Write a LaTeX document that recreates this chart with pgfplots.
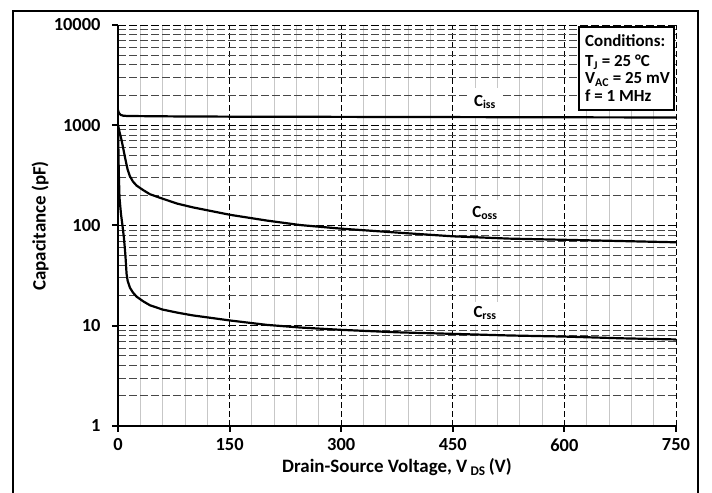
\documentclass[border=0pt]{standalone}
\usepackage{pgfplots}
\pgfplotsset{compat=1.18}
\usepackage{fontspec}
\setmainfont{Carlito}

\begin{document}
\begin{tikzpicture}[x=1bp,y=1bp]
\useasboundingbox (0,0) rectangle (712,493);
\fill[white] (0,0) rectangle (712,493);

\begin{axis}[
    at={(118bp,67bp)}, anchor=south west,
    scale only axis, width=558bp, height=401bp,
    xmin=0, xmax=750, ymin=1, ymax=10000,
    ymode=log,
    axis lines*=left,
    axis line style={line width=2.2bp},
    every tick/.style={black, line width=2bp},
    tick align=outside,
    major tick length=6bp, minor tick length=0bp,
    xtick={0,150,300,450,600,750},
    xticklabels={0,150,300,450,600,750},
    minor x tick num=4,
    ytick={1,10,100,1000,10000},
    yticklabels={1,10,100,1000,10000},
    ticklabel style={font=\fontsize{18.5}{20}\selectfont\bfseries},
    yticklabel style={xshift=-8bp},
    xticklabel style={yshift=-3bp},
    grid=both,
    major x grid style={black, line width=0.7bp, dash pattern=on 6bp off 3bp},
    major y grid style={black, line width=0.9bp, dash pattern=on 8bp off 3bp},
    minor x grid style={black!22, line width=0.9bp},
    minor y grid style={black!72, line width=0.9bp, dash pattern=on 8bp off 3bp},
    clip=true,
]
% C_iss
\addplot[black, line width=2.2bp] coordinates {
 (0,1420) (1,1340) (2,1300) (4,1265) (7,1245) (12,1238) (20,1235)
 (75,1225) (150,1218) (300,1212) (450,1206) (600,1200) (750,1195)};
% C_oss
\addplot[black, line width=2.2bp] coordinates {
 (0,1000) (2,860) (5,700) (8,540) (11,420) (13,360) (16,310) (20,275)
 (25,250) (34,225) (43,205) (60,185) (80,165) (100,152) (150,128)
 (200,112) (245,101) (300,93) (375,85) (450,78) (525,74) (600,72)
 (675,70) (750,68)};
% C_rss
\addplot[black, line width=2.2bp] coordinates {
 (0,1000) (0.5,600) (1,350) (2,190) (4,130) (6,100) (8,75) (10,50)
 (11.5,33) (13,28) (16,24) (20,21.5) (25,19.5) (34,17.5) (43,16)
 (60,14.5) (80,13.5) (100,12.7) (150,11.3) (200,10.2) (245,9.6)
 (300,9.1) (375,8.6) (450,8.3) (525,8.0) (600,7.8) (675,7.5) (750,7.3)};
\end{axis}

% curve labels
\node[fill=white, inner sep=0pt, minimum width=36bp, minimum height=28bp,
      font=\fontsize{17}{19}\selectfont\bfseries] at (485,391) {C\textsubscript{iss}};
\node[fill=white, inner sep=0pt, minimum width=44bp, minimum height=25bp,
      font=\fontsize{17}{19}\selectfont\bfseries] at (485,280) {C\textsubscript{oss}};
\node[fill=white, inner sep=0pt, minimum width=44bp, minimum height=22bp,
      font=\fontsize{17}{19}\selectfont\bfseries] at (485,180) {C\textsubscript{rss}};

% conditions box
\draw[fill=white, line width=1.8bp] (579,466.3) rectangle (674,383);
\begin{scope}[every node/.style={anchor=base west, inner sep=0pt,
      font=\fontsize{17}{19}\selectfont\bfseries}]
\node at (585,446) {Conditions:};
\node at (585,426) {T\textsubscript{J} = 25 °C};
\node at (585,409) {V\textsubscript{AC} = 25 mV};
\node at (585,391) {f = 1 MHz};
\end{scope}

% axis titles
\node[font=\fontsize{19}{21}\selectfont\bfseries] at (397,26)
  {Drain-Source Voltage, V\,\textsubscript{DS}\,(V)};
\node[rotate=90, font=\fontsize{19}{21}\selectfont\bfseries] at (40,267)
  {Capacitance (pF)};

% outer frame
\draw[line width=1.8bp] (13,-5) rectangle (698,482.3);
\end{tikzpicture}
\end{document}
